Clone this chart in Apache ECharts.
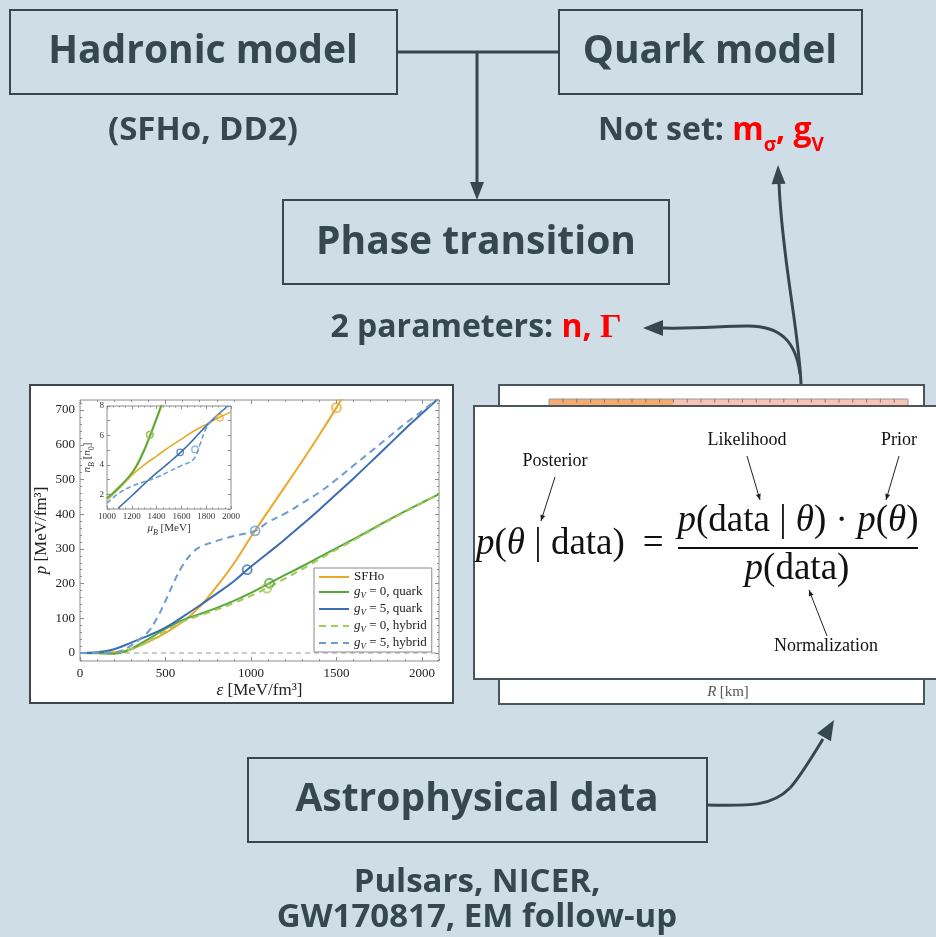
<!DOCTYPE html>
<html><head><meta charset="utf-8">
<script src="https://cdn.jsdelivr.net/npm/echarts@6/dist/echarts.min.js"></script>
<style>html,body{margin:0;padding:0;background:#cfdee6}#c{width:936px;height:937px}</style>
</head><body><div id="c"></div>
<script>
// ---------------- DATA ----------------
const epsTicks = [0, 500, 1000, 1500, 2000];
const epsMinorTicks = [100,200,300,400,600,700,800,900,1100,1200,1300,1400,1600,1700,1800,1900,2100];
const pTicks = [0, 100, 200, 300, 400, 500, 600, 700];
const muTicks = [1000, 1200, 1400, 1600, 1800, 2000];
const nTicks = [2, 4, 6, 8];

const seriesNames = ['SFHo', 'g_V = 0, quark', 'g_V = 5, quark', 'g_V = 0, hybrid', 'g_V = 5, hybrid'];

// main panel: p(eps)
const sfhoEps = [0,100,200,250,300,400,500,600,700,800,900,1000,1100,1200,1300,1400,1500,1545];
const sfhoP   = [0,0.5,2,5,11,32,58,90,133,192,258,335,408,480,553,628,707,745];

const q0Eps = [0,100,200,250,300,400,500,600,700,800,900,1000,1108,1200,1300,1400,1500,1600,1700,1800,1900,2000,2100];
const q0P   = [0,-1,-2,2,12,40,70,95,112,130,150,173,201,225,250,276,302,328,355,382,408,433,458];

const q5Eps = [0,100,200,300,400,500,600,700,800,900,978,1100,1200,1300,1400,1500,1600,1700,1800,1900,2000,2100];
const q5P   = [0,2,11,30,50,73,104,137,171,207,240,288,328,370,413,458,503,550,597,645,690,735];

const h0Eps = [0,100,200,250,300,400,500,600,700,800,900,1000,1093,1200,1300,1400,1500,1600,1700,1800,1900,2000,2100];
const h0P   = [0,0.5,2,5,11,33,63,90,108,125,144,165,187,215,242,270,298,325,352,380,406,432,457];

const h5Eps = [0,100,200,250,300,350,400,450,500,550,600,650,700,800,900,1024,1100,1200,1300,1400,1500,1600,1700,1800,1900,2000,2100];
const h5P   = [0,0.5,2,8,22,40,62,100,150,205,252,285,305,323,337,352,377,402,432,463,500,540,580,620,660,697,735];

const markerEps = [1500, 1108, 978, 1093, 1024];
const markerP   = [707, 201, 240, 187, 352];

// inset: n_B(mu_B)
const inSfhoMu = [1000,1100,1200,1300,1400,1500,1600,1700,1800,1900,2000];
const inSfhoN  = [1.7,2.5,3.3,4.0,4.6,5.2,5.75,6.3,6.75,7.2,7.6];
const inQ0Mu = [1000,1050,1100,1150,1200,1250,1300,1350,1400,1445];
const inQ0N  = [1.75,2.1,2.5,2.95,3.45,4.1,5.0,6.05,7.15,8.2];
const inQ5Mu = [1090,1200,1300,1400,1500,1600,1700,1800,1900,1975];
const inQ5N  = [1.05,1.9,2.7,3.45,4.15,4.9,5.75,6.65,7.45,8.0];
const inH0Mu = [1000,1100,1200,1300,1350,1400,1445];
const inH0N  = [1.65,2.45,3.4,5.0,6.05,7.15,8.2];
const inH5Mu = [1000,1100,1200,1300,1400,1500,1600,1700,1750,1800,1850,1900,1975];
const inH5N  = [1.4,2.1,2.55,2.85,3.15,3.55,3.95,4.4,5.4,6.5,7.05,7.45,8.0];
const inMarkerMu = [1910, 1345, 1590, 1345, 1710];
const inMarkerN  = [7.2, 6.05, 4.85, 6.05, 5.05];

// ---------------- STYLE ----------------
const SERIF = '"Liberation Serif", "DejaVu Serif", serif';
const SANS = '"Open Sans", Lato, sans-serif';
const DARK = '#37474f';
const RED = '#ff0000';
const FRAME = '#8c8c8c';
const COLORS = ['#eaa92a', '#55a83a', '#3b6db3', '#a7c95a', '#6b9ccf'];
const DASHED = [false, false, false, true, true];

function zip(xs, ys) { return xs.map((x, i) => [x, ys[i]]); }
const plainNum = v => String(v);

const pMinorTicks = [];
for (let v = -20; v <= 720; v += 20) if (v % 100 !== 0) pMinorTicks.push(v);

function frameAxis(dim, grid, pos, min, max, ticks, len, labels, extra) {
  const a = {
    type: 'value', gridIndex: grid, position: pos, min: min, max: max,
    axisLine: { show: false, onZero: false },
    splitLine: { show: false },
    axisTick: { show: true, inside: true, length: len, customValues: ticks, lineStyle: { color: FRAME, width: 1 } },
    axisLabel: labels ? Object.assign({ customValues: ticks, fontFamily: SERIF, color: '#222', formatter: plainNum }, labels) : { show: false }
  };
  return Object.assign(a, extra || {});
}

const mainXName = { name: '{i|ε} [MeV/fm³]', nameLocation: 'middle', nameGap: 21,
  nameTextStyle: { fontFamily: SERIF, fontSize: 17, color: '#222', rich: { i: { fontFamily: SERIF, fontStyle: 'italic', fontSize: 17, color: '#222' } } } };
const mainYName = { name: '{i|p} [MeV/fm³]', nameLocation: 'middle', nameGap: 30, nameRotate: 90,
  nameTextStyle: { fontFamily: SERIF, fontSize: 17, color: '#222', rich: { i: { fontFamily: SERIF, fontStyle: 'italic', fontSize: 17, color: '#222' } } } };

const smallRich = {
  i: { fontFamily: SERIF, fontStyle: 'italic', fontSize: 11, color: '#333', verticalAlign: 'top', lineHeight: 14 },
  n: { fontFamily: SERIF, fontSize: 11, color: '#333', verticalAlign: 'top', lineHeight: 14 },
  s: { fontFamily: SERIF, fontStyle: 'italic', fontSize: 8, color: '#333', verticalAlign: 'bottom', lineHeight: 14 },
  s0: { fontFamily: SERIF, fontSize: 8, color: '#333', verticalAlign: 'bottom', lineHeight: 14 }
};

const xAxes = [
  frameAxis('x', 0, 'bottom', 0, 2100, epsTicks, 4, { fontSize: 13, margin: 6 }, mainXName),
  frameAxis('x', 0, 'bottom', 0, 2100, epsMinorTicks, 2, null),
  frameAxis('x', 0, 'top', 0, 2100, epsTicks, 4, null),
  frameAxis('x', 0, 'top', 0, 2100, epsMinorTicks, 2, null),
  {
    type: 'value', gridIndex: 1, position: 'bottom', min: 1000, max: 2000, interval: 200,
    axisLine: { show: false, onZero: false }, splitLine: { show: false },
    axisTick: { show: true, inside: true, length: 3, lineStyle: { color: FRAME } },
    minorTick: { show: true, splitNumber: 4, length: 1.5, lineStyle: { color: FRAME } },
    axisLabel: { fontFamily: SERIF, fontSize: 9, color: '#333', margin: 3, formatter: plainNum },
    name: '{i|μ}{s|B} {n|[MeV]}', nameLocation: 'middle', nameGap: 14,
    nameTextStyle: { fontFamily: SERIF, fontSize: 11, color: '#333', rich: smallRich }
  },
  {
    type: 'value', gridIndex: 1, position: 'top', min: 1000, max: 2000, interval: 200,
    axisLine: { show: false, onZero: false }, splitLine: { show: false },
    axisTick: { show: true, inside: true, length: 3, lineStyle: { color: FRAME } },
    minorTick: { show: true, splitNumber: 4, length: 1.5, lineStyle: { color: FRAME } },
    axisLabel: { show: false }
  }
];

const yAxes = [
  frameAxis('y', 0, 'left', -23, 729, pTicks, 4, { fontSize: 13, margin: 5 }, mainYName),
  frameAxis('y', 0, 'left', -23, 729, pMinorTicks, 2, null),
  frameAxis('y', 0, 'right', -23, 729, pTicks, 4, null),
  frameAxis('y', 0, 'right', -23, 729, pMinorTicks, 2, null),
  {
    type: 'value', gridIndex: 1, position: 'left', min: 1, max: 8, interval: 1,
    axisLine: { show: false, onZero: false }, splitLine: { show: false },
    axisTick: { show: true, inside: true, length: 3, lineStyle: { color: FRAME } },
    axisLabel: { fontFamily: SERIF, fontSize: 9, color: '#333', margin: 3,
      formatter: v => (nTicks.indexOf(v) >= 0 ? String(v) : '') },
    name: '{i|n}{s|B} {n|[}{i|n}{s0|0}{n|]}', nameLocation: 'middle', nameGap: 11, nameRotate: 90,
    nameTextStyle: { fontFamily: SERIF, fontSize: 11, color: '#333', rich: smallRich }
  },
  {
    type: 'value', gridIndex: 1, position: 'right', min: 1, max: 8, interval: 1,
    axisLine: { show: false, onZero: false }, splitLine: { show: false },
    axisTick: { show: true, inside: true, length: 3, lineStyle: { color: FRAME } },
    axisLabel: { show: false }
  }
];

const mainData = [zip(sfhoEps, sfhoP), zip(q0Eps, q0P), zip(q5Eps, q5P), zip(h0Eps, h0P), zip(h5Eps, h5P)];
const insetData = [zip(inSfhoMu, inSfhoN), zip(inQ0Mu, inQ0N), zip(inQ5Mu, inQ5N), zip(inH0Mu, inH0N), zip(inH5Mu, inH5N)];

const series = [];
series.push({
  type: 'line', xAxisIndex: 0, yAxisIndex: 0, data: [[0, 0], [2100, 0]], symbol: 'none', silent: true, z: 1,
  lineStyle: { color: '#9a9a9a', width: 1.2, type: [5, 4] }
});
seriesNames.forEach((nm, k) => {
  series.push({
    name: nm, type: 'line', xAxisIndex: 0, yAxisIndex: 0, data: mainData[k],
    symbol: 'none', smooth: 0.4, color: COLORS[k],
    lineStyle: { color: COLORS[k], width: 2, type: DASHED[k] ? [7, 5] : 'solid' }, z: 2 + k * 0.1
  });
});
series.push({
  type: 'scatter', xAxisIndex: 0, yAxisIndex: 0, symbol: 'circle', symbolSize: 9, silent: true, z: 5,
  data: markerEps.map((e, k) => ({ value: [e, markerP[k]], itemStyle: { color: 'rgba(255,255,255,0)', borderColor: COLORS[k], borderWidth: 1.8 } }))
});
// inset: hybrid gV=0 drawn first so the quark green stays visible
const insetOrder = [3, 0, 1, 2, 4];
insetOrder.forEach(k => {
  series.push({
    type: 'line', xAxisIndex: 4, yAxisIndex: 4, data: insetData[k],
    symbol: 'none', smooth: 0.4,
    lineStyle: { color: COLORS[k], width: k === 3 ? 2.4 : 1.6, type: DASHED[k] && k !== 3 ? [5, 3] : 'solid' }, z: 3
  });
});
series.push({
  type: 'scatter', xAxisIndex: 4, yAxisIndex: 4, symbol: 'circle', symbolSize: 6.5, silent: true, z: 5,
  data: inMarkerMu.map((m, k) => ({ value: [m, inMarkerN[k]], itemStyle: { color: 'rgba(255,255,255,0)', borderColor: COLORS[k], borderWidth: 1.3 } }))
});

// ---------------- GRAPHIC (diagram) ----------------
const G = [];
function rectEl(x, y, w, h, style, z) { return { type: 'rect', z: z || 0, shape: { x: x, y: y, width: w, height: h }, style: style }; }
function textEl(x, y, style, z) {
  const s = Object.assign({ align: 'center', textAlign: 'center', verticalAlign: 'middle', textVerticalAlign: 'middle' }, style);
  return { type: 'text', x: x, y: y, z: z || 0, style: s };
}
function arrowHead(tx, ty, fx, fy, len, hw, color) {
  const dx = tx - fx, dy = ty - fy, L = Math.sqrt(dx * dx + dy * dy);
  const ux = dx / L, uy = dy / L;
  const bx = tx - ux * len, by = ty - uy * len;
  return { type: 'polygon', shape: { points: [[tx, ty], [bx - uy * hw, by + ux * hw], [bx + uy * hw, by - ux * hw]] }, style: { fill: color } };
}
function bez(p, z) {
  return { type: 'bezierCurve', z: z || 0, shape: { x1: p[0], y1: p[1], cpx1: p[2], cpy1: p[3], cpx2: p[4], cpy2: p[5], x2: p[6], y2: p[7] },
    style: { stroke: DARK, lineWidth: 3, fill: 'none' } };
}
const boxStyle = { fill: 'none', stroke: DARK, lineWidth: 2 };
const titleStyle = { fontFamily: SANS, fontWeight: 700, fontSize: 39, fill: DARK };
const subStyle = { fontFamily: SANS, fontWeight: 700, fontSize: 33, fill: DARK };

// boxes and titles
G.push(rectEl(10, 10, 387, 84, boxStyle));
G.push(textEl(203, 52, Object.assign({ text: 'Hadronic model' }, titleStyle)));
G.push(rectEl(559, 10, 303, 84, boxStyle));
G.push(textEl(710, 52, Object.assign({ text: 'Quark model' }, titleStyle)));
G.push(rectEl(283, 200, 386, 84, boxStyle));
G.push(textEl(476, 243, Object.assign({ text: 'Phase transition' }, titleStyle)));
G.push(rectEl(248, 758, 459, 84, boxStyle));
G.push(textEl(477, 800, Object.assign({ text: 'Astrophysical data' }, titleStyle)));

// subtitles
G.push(textEl(203, 131, Object.assign({ text: '(SFHo, DD2)' }, subStyle)));
G.push(textEl(711, 135, {
  text: '{d|Not set: }{r|m}{rs|σ}{r|, g}{rs|V}',
  rich: {
    d: { fontFamily: SANS, fontWeight: 700, fontSize: 32, fill: DARK, verticalAlign: 'top', lineHeight: 41 },
    r: { fontFamily: SANS, fontWeight: 700, fontSize: 32, fill: RED, verticalAlign: 'top', lineHeight: 41 },
    rs: { fontFamily: SANS, fontWeight: 700, fontSize: 19, fill: RED, verticalAlign: 'bottom', lineHeight: 41 }
  }
}));
G.push(textEl(476, 328, {
  text: '{d|2 parameters: }{r|n, }{g|Γ}',
  rich: {
    d: { fontFamily: SANS, fontWeight: 700, fontSize: 32, fill: DARK },
    r: { fontFamily: SANS, fontWeight: 700, fontSize: 32, fill: RED },
    g: { fontFamily: SERIF, fontWeight: 700, fontSize: 34, fill: RED }
  }
}));
G.push(textEl(477, 883, Object.assign({ text: 'Pulsars, NICER,' }, subStyle)));
G.push(textEl(477, 918, Object.assign({ text: 'GW170817, EM follow-up' }, subStyle)));

// connectors
const lineSt = { stroke: DARK, lineWidth: 3, fill: 'none' };
G.push({ type: 'line', shape: { x1: 397, y1: 52, x2: 559, y2: 52 }, style: lineSt });
G.push({ type: 'line', shape: { x1: 477, y1: 52, x2: 477, y2: 186 }, style: lineSt });
G.push(arrowHead(477, 200, 477, 150, 18, 7, DARK));
G.push(bez([801, 384, 799, 330, 782, 260, 779, 183], -12));
G.push(arrowHead(778, 165, 779, 200, 19, 7, DARK));
G.push(bez([800, 374, 796, 342, 781, 326, 748, 326], -12));
G.push(bez([748, 326, 720, 326, 700, 329, 660, 328], -12));
G.push(arrowHead(643, 328, 680, 328, 20, 8, DARK));
G.push(bez([707, 805, 752, 806, 772, 806, 790, 788]));
G.push(bez([790, 788, 800, 777, 812, 757, 823, 739]));
G.push(arrowHead(834, 720, 823, 739, 20, 8, DARK));

// left panel background
G.push(rectEl(30, 385, 423, 318, { fill: '#fff', stroke: '#3d4950', lineWidth: 2 }, -10));

// right panel: back figure
G.push(rectEl(499, 385, 425, 319, { fill: '#fff', stroke: '#4a555c', lineWidth: 2 }, -10));
G.push(rectEl(549, 399, 124, 9, { fill: '#f3ab6e' }, -9));
G.push(rectEl(673, 399, 235, 9, { fill: '#f8c2b4' }, -9));
G.push(rectEl(549, 399, 359, 9, { fill: 'none', stroke: '#999', lineWidth: 1 }, -9));
for (let x = 563; x < 906; x += 13.8) {
  G.push({ type: 'line', z: -9, shape: { x1: x, y1: 399, x2: x, y2: 402.5 }, style: { stroke: '#777', lineWidth: 1 } });
}
G.push(textEl(728, 692, {
  text: '{i|R} {n|[km]}',
  rich: { i: { fontFamily: SERIF, fontStyle: 'italic', fontSize: 15, fill: '#555' }, n: { fontFamily: SERIF, fontSize: 15, fill: '#555' } }
}, -9));
// front box with Bayes formula
G.push(rectEl(474, 406, 470, 273, { fill: '#fff', stroke: '#4a555c', lineWidth: 2 }, -8));

const fr = {
  i: { fontFamily: SERIF, fontStyle: 'italic', fontSize: 37, fill: '#111' },
  n: { fontFamily: SERIF, fontSize: 37, fill: '#111' },
  sp: { fontFamily: SERIF, fontSize: 37, fill: '#111', width: 18 }
};
G.push(textEl(476, 544, { text: '{i|p}{n|(}{i|θ}{n| | data)}{sp| }{n|=}', rich: fr, align: 'left', textAlign: 'left' }));
G.push(textEl(798, 521, { text: '{i|p}{n|(data | }{i|θ}{n|) · }{i|p}{n|(}{i|θ}{n|)}', rich: fr }));
G.push({ type: 'line', shape: { x1: 678, y1: 548, x2: 918, y2: 548 }, style: { stroke: '#111', lineWidth: 2 } });
G.push(textEl(797, 569, { text: '{i|p}{n|(data)}', rich: fr }));

const lab = { fontFamily: SERIF, fontSize: 18, fill: '#111' };
G.push(textEl(555, 461, Object.assign({ text: 'Posterior' }, lab)));
G.push(textEl(747, 440, Object.assign({ text: 'Likelihood' }, lab)));
G.push(textEl(899, 440, Object.assign({ text: 'Prior' }, lab)));
G.push(textEl(826, 646, Object.assign({ text: 'Normalization' }, lab)));
const thin = { stroke: '#222', lineWidth: 1 };
[[555, 477, 541, 521], [747, 456, 760, 500], [899, 456, 886, 500], [827, 636, 809, 590]].forEach(a => {
  G.push({ type: 'line', shape: { x1: a[0], y1: a[1], x2: a[2], y2: a[3] }, style: thin });
  G.push(arrowHead(a[2], a[3], a[0], a[1], 6, 2.5, '#222'));
});

// ---------------- CHART ----------------
const legendRich = {
  i: { fontFamily: SERIF, fontStyle: 'italic', fontSize: 13, color: '#222', verticalAlign: 'top', lineHeight: 16, padding: [1, 0, 0, 0] },
  n: { fontFamily: SERIF, fontSize: 13, color: '#222', verticalAlign: 'top', lineHeight: 16, padding: [1, 0, 0, 0] },
  s: { fontFamily: SERIF, fontStyle: 'italic', fontSize: 9, color: '#222', verticalAlign: 'bottom', lineHeight: 16 }
};

const option = {
  backgroundColor: '#cfdee6',
  animation: false,
  grid: [
    { left: 80, top: 400, width: 359, height: 261, show: true, backgroundColor: '#fff', borderColor: FRAME, borderWidth: 1, containLabel: false },
    { left: 107, top: 406, width: 124, height: 103, show: true, backgroundColor: '#fff', borderColor: FRAME, borderWidth: 1, containLabel: false }
  ],
  xAxis: xAxes,
  yAxis: yAxes,
  legend: {
    data: seriesNames, orient: 'vertical', left: 314, top: 568,
    itemWidth: 30, itemHeight: 14, itemGap: 1, padding: [1, 5, 1, 4],
    borderColor: '#888', borderWidth: 1, backgroundColor: '#fff', selectedMode: false,
    itemStyle: { color: 'rgba(0,0,0,0)', borderWidth: 0, opacity: 0 },
    textStyle: { fontFamily: SERIF, fontSize: 13, color: '#222', rich: legendRich },
    formatter: function (name) {
      if (name.indexOf('g_V') === 0) return '{i|g}{s|V}{n|' + name.slice(3) + '}';
      return '{n|' + name + '}';
    }
  },
  series: series,
  graphic: { elements: G }
};

const chart = echarts.init(document.getElementById('c'), null, { renderer: 'canvas', width: 936, height: 937 });
chart.setOption(option);
</script></body></html>
